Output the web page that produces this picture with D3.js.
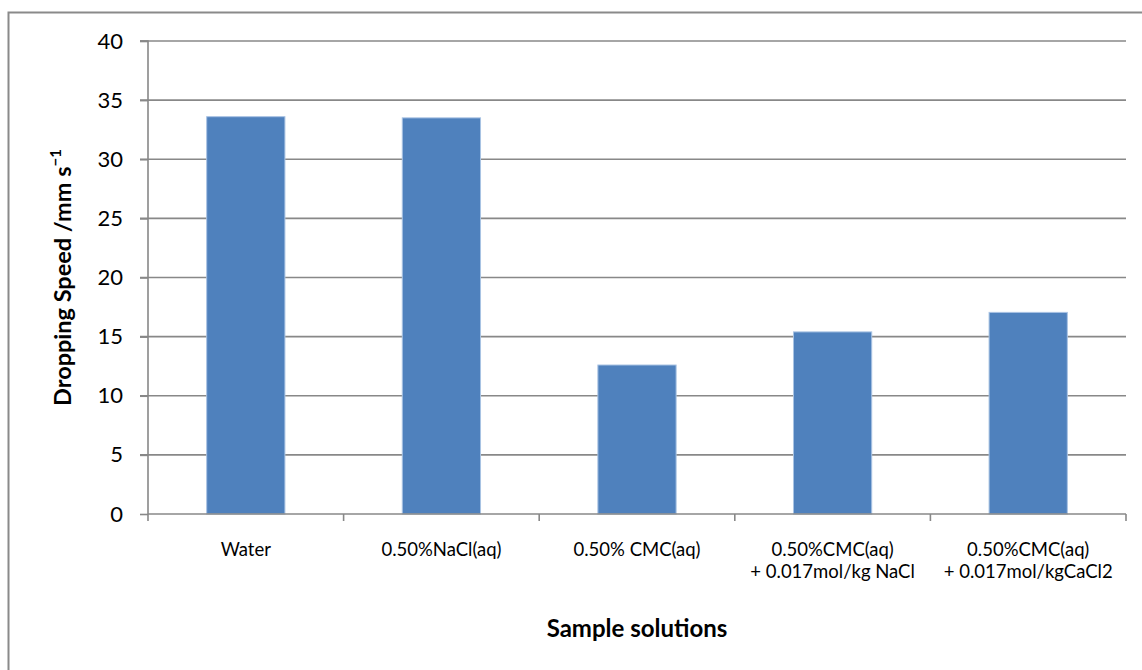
<!DOCTYPE html>
<html><head><meta charset="utf-8">
<script src="https://cdn.jsdelivr.net/npm/d3@7"></script>
<style>body{margin:0;background:#fff}svg{display:block}</style>
</head><body>
<script>
const categories = [
  ["Water"],
  ["0.50%NaCl(aq)"],
  ["0.50% CMC(aq)"],
  ["0.50%CMC(aq)", "+ 0.017mol/kg NaCl"],
  ["0.50%CMC(aq)", "+ 0.017mol/kgCaCl2"]
];
const values = [33.6, 33.5, 12.6, 15.4, 17.05];
const yTicks = [0, 5, 10, 15, 20, 25, 30, 35, 40];
const xTitle = "Sample solutions";
const yTitle = "Dropping Speed /mm s";

const W = 1142, H = 670;
const m = {left: 148, right: 1126, top: 41, bottom: 514};
const svg = d3.select("body").append("svg").attr("width", W).attr("height", H);
const font = "Lato, 'Open Sans', sans-serif";

svg.append("rect").attr("x", 8.5).attr("y", 12.5).attr("width", 1200).attr("height", 700)
  .attr("fill", "none").attr("stroke", "#8a8a8a").attr("stroke-width", 2);

const x = d3.scaleBand().domain(d3.range(categories.length)).range([m.left, m.right]).padding(0);
const y = d3.scaleLinear().domain([0, 40]).range([m.bottom, m.top]);

// gridlines
svg.append("g").selectAll("line").data(yTicks.filter(d => d > 0)).join("line")
  .attr("x1", m.left - 8).attr("x2", m.right).attr("y1", d => y(d)).attr("y2", d => y(d))
  .attr("stroke", "#888").attr("stroke-width", 1.6);

// y axis
const ya = svg.append("g").attr("transform", `translate(${m.left},0)`)
  .call(d3.axisLeft(y).tickValues(yTicks).tickSize(8).tickPadding(17));
ya.select(".domain").attr("stroke", "#888").attr("stroke-width", 1.6).attr("d", `M-8,${m.top}H0V${m.bottom}`);
ya.selectAll(".tick line").attr("stroke", "#888").attr("stroke-width", 1.6);
ya.selectAll(".tick text").attr("font-family", font).attr("font-size", 22).attr("fill", "#000");

// bars
const bw = x.bandwidth() * 0.4;
svg.append("g").selectAll("rect").data(values).join("rect")
  .attr("x", (d, i) => x(i) + x.bandwidth() / 2 - bw / 2)
  .attr("width", bw)
  .attr("y", d => y(d))
  .attr("height", d => y(0) - y(d))
  .attr("fill", "#4F81BD").attr("stroke", "#a9c3e3").attr("stroke-width", 1);

// x axis
const xa = svg.append("g").attr("transform", `translate(0,${m.bottom})`);
xa.append("line").attr("x1", m.left).attr("x2", m.right).attr("stroke", "#888").attr("stroke-width", 1.6);
xa.selectAll("line.t").data(d3.range(categories.length + 1)).join("line").attr("class", "t")
  .attr("x1", i => m.left + i * x.step()).attr("x2", i => m.left + i * x.step())
  .attr("y1", 0).attr("y2", 7).attr("stroke", "#888").attr("stroke-width", 1.6);

const lab = svg.append("g");
categories.forEach((lines, i) => {
  lines.forEach((s, j) => lab.append("text")
    .attr("x", x(i) + x.bandwidth() / 2).attr("y", 556 + j * 22)
    .attr("text-anchor", "middle").attr("font-family", font).attr("font-size", 18.5).attr("fill", "#000")
    .text(s));
});

svg.append("text").attr("x", (m.left + m.right) / 2).attr("y", 637).attr("text-anchor", "middle")
  .attr("font-family", font).attr("font-weight", "bold").attr("font-size", 24).text(xTitle);

const yt = svg.append("text").attr("transform", `translate(71,${(m.top + m.bottom) / 2}) rotate(-90)`)
  .attr("text-anchor", "middle").attr("font-family", font).attr("font-weight", "bold").attr("font-size", 23.5);
yt.append("tspan").text(yTitle);
yt.append("tspan").attr("dy", -10).attr("font-size", 15).text("\u22121");
</script>
</body></html>
